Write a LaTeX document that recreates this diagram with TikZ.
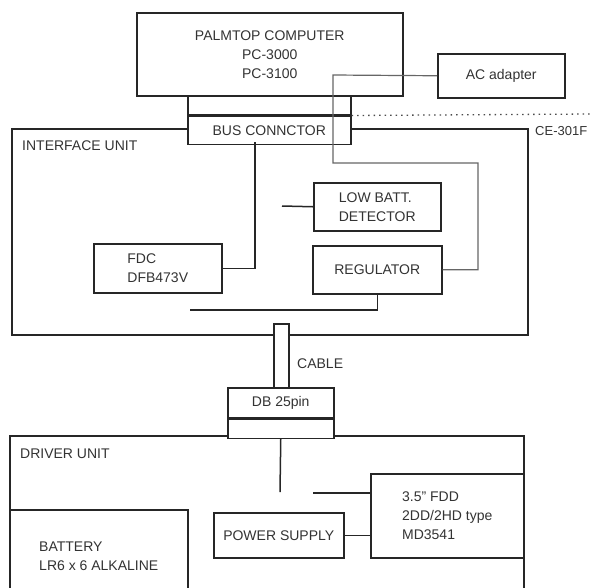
\documentclass[tikz,border=0pt]{standalone}
\usepackage{fontspec}
\setmainfont{Liberation Sans}
\usepackage{tikz}
\usetikzlibrary{positioning}
\tikzset{
  unitbox/.style={draw=black!85,line width=1.5pt,fill=white,inner sep=0pt,
    anchor=north west,align=center,font=\fontsize{14}{19}\selectfont,text=black!80},
  framebox/.style={draw=black!85,line width=1.5pt,inner sep=0pt,anchor=north west},
  unitlabel/.style={anchor=west,inner sep=0pt,font=\fontsize{14}{19}\selectfont,text=black!80},
  wire/.style={draw=black!85,line width=1.5pt},
  faintwire/.style={draw=black!60,line width=1.2pt},
  busbar/.style={draw=black!85,line width=3pt},
  dotwire/.style={draw=black!70,line width=1.3pt,dash pattern=on 1.5pt off 4pt}
}

\begin{document}
\begin{tikzpicture}[x=1pt,y=-1pt]
  \useasboundingbox (0,0) rectangle (591,587);
  % interface unit
  \node[framebox,minimum width=516pt,minimum height=206pt] (iface) at (11,128) {};
  \node[unitlabel] (ifacename) at (22,146) {INTERFACE UNIT};
  % palmtop, bus connector, adapter
  \node[unitbox,minimum width=266pt,minimum height=83pt] (pc) at (136,12)
    {PALMTOP COMPUTER\\PC-3000\\PC-3100};
  \node[unitbox,minimum width=163pt,minimum height=19pt] (busup) at (187,95) {};
  \node[unitbox,minimum width=163pt,minimum height=28pt,below=0pt of busup] (bus) {BUS CONNCTOR};
  \draw[busbar] (busup.south west) -- (busup.south east);
  \coordinate (ceend) at (591,114);
  \draw[dotwire] (busup.south east) -- (ceend);
  \node[unitlabel,font=\fontsize{13}{16}\selectfont] (cename) at (535,131) {CE-301F};
  \node[unitbox,minimum width=127pt,minimum height=44pt] (ac) at (437,53) {AC adapter};
  % inside interface unit
  \node[unitbox,align=left,minimum width=127pt,minimum height=48pt] (lowbatt) at (313,182)
    {LOW BATT.\\DETECTOR};
  \node[unitbox,minimum width=129pt,minimum height=48pt] (reg) at (312,245) {REGULATOR};
  \node[unitbox,align=left,minimum width=128pt,minimum height=49pt] (fdc) at (93,243)
    {FDC\\DFB473V};
  % cable
  \node[unitbox,minimum width=15pt,minimum height=64pt] (cable) at (273,323) {};
  \node[unitlabel] (cablename) at (297,364) {CABLE};
  % driver unit
  \node[framebox,minimum width=514pt,minimum height=170pt] (driver) at (9,435) {};
  \node[unitlabel] (drivername) at (20,454) {DRIVER UNIT};
  \node[unitbox,minimum width=106pt,minimum height=30pt] (db) at (227,387) {DB 25pin};
  \node[unitbox,minimum width=106pt,minimum height=19pt,below=0pt of db] (dblow) {};
  \draw[busbar] (db.south west) -- (db.south east);
  \node[unitbox,align=left,minimum width=178pt,minimum height=92pt] (battery) at (9,509)
    {BATTERY\\LR6 x 6 ALKALINE};
  \node[unitbox,minimum width=130pt,minimum height=45pt] (ps) at (213,512) {POWER SUPPLY};
  \node[unitbox,align=left,minimum width=153pt,minimum height=84pt] (fdd) at (370,473)
    {3.5" FDD\\2DD/2HD type\\MD3541};

  % connections
  \coordinate (acbend) at (333,75);
  \coordinate (acdrop) at (478,163);
  \draw[faintwire] (ac.west) -- (acbend) |- (acdrop) |- (reg.east);
  \coordinate (lbfree) at (282,206);
  \draw[wire] (lbfree) -- (lowbatt.west);
  \coordinate (fdcbus) at (255,142);
  \draw[wire] (fdc.east) -| (fdcbus);
  \coordinate (regfree) at (190,310);
  \draw[wire] (reg.south) |- (regfree);
  \coordinate (psfree) at (280,492);
  \draw[wire] (dblow.south) -- (psfree);
  \draw[wire] (ps.east) -- (ps.east -| fdd.west);
  \coordinate (fddfree) at (313,493);
  \draw[wire] (fddfree) -- (fddfree -| fdd.west);
\end{tikzpicture}
\end{document}
